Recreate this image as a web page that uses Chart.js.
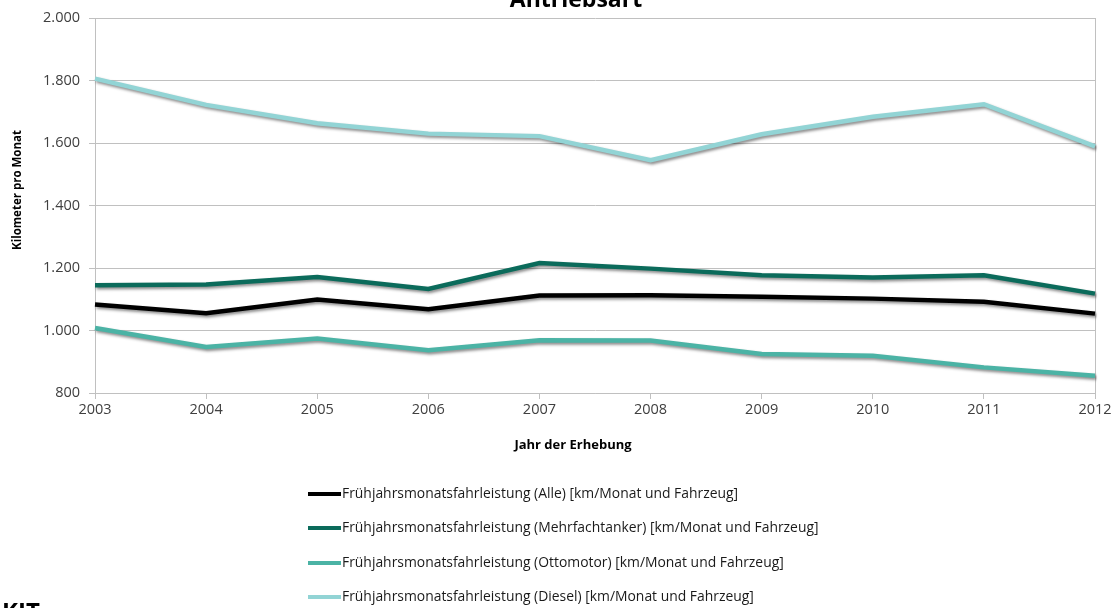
<!DOCTYPE html>
<html>
<head>
<meta charset="utf-8">
<script src="https://cdn.jsdelivr.net/npm/chart.js@4/dist/chart.umd.min.js"></script>
<style>
  html, body { margin: 0; padding: 0; background: #fff; }
  #wrap { width: 1115px; height: 608px; }
</style>
</head>
<body>
<div id="wrap"><canvas id="myChart" width="1115" height="608"></canvas></div>
<script>
/* data */
var years = ['2003','2004','2005','2006','2007','2008','2009','2010','2011','2012'];
var alle = [1083, 1055, 1099, 1068, 1112, 1113, 1108, 1102, 1092, 1054];
var mehrfachtanker = [1145, 1147, 1171, 1133, 1216, 1198, 1177, 1170, 1177, 1118];
var ottomotor = [1008, 947, 974, 937, 969, 968, 925, 919, 882, 855];
var diesel = [1806, 1722, 1663, 1630, 1622, 1545, 1628, 1684, 1724, 1589];

var seriesLabels = [
	'Frühjahrsmonatsfahrleistung (Alle) [km/Monat und Fahrzeug]',
	'Frühjahrsmonatsfahrleistung (Mehrfachtanker) [km/Monat und Fahrzeug]',
	'Frühjahrsmonatsfahrleistung (Ottomotor) [km/Monat und Fahrzeug]',
	'Frühjahrsmonatsfahrleistung (Diesel) [km/Monat und Fahrzeug]'
];
var seriesColors = ['#000000', '#0b6b5b', '#4bb3a5', '#92d4d5'];
var chartTitle = 'Antriebsart';
var xTitle = 'Jahr der Erhebung';
var yTitle = 'Kilometer pro Monat';

var FONT = "'Open Sans', sans-serif";
var gridGray = '#c0c0c0';

function makeSet(i, values){
	return {
		label: seriesLabels[i],
		data: values,
		borderColor: seriesColors[i],
		backgroundColor: seriesColors[i],
		borderWidth: 4.5,
		pointRadius: 0,
		pointHoverRadius: 0,
		tension: 0,
		fill: false
	};
}

// shadow under the lines, like the office chart
var shadowPlugin = {
	id: 'lineShadow',
	beforeDatasetsDraw: function(chart){
		var ctx = chart.ctx;
		ctx.save();
		ctx.shadowColor = 'rgba(0,0,0,0.45)';
		ctx.shadowBlur = 3;
		ctx.shadowOffsetX = 1.5;
		ctx.shadowOffsetY = 2;
	},
	afterDatasetsDraw: function(chart){
		chart.ctx.restore();
	}
};

// titles, legend list and the cut-off footer
var textPlugin = {
	id: 'texts',
	afterDraw: function(chart){
		var ctx = chart.ctx;
		ctx.save();

		// chart title, mostly cut off at the top
		ctx.fillStyle = '#000';
		ctx.font = "bold 23px " + FONT;
		ctx.textAlign = 'center';
		ctx.textBaseline = 'alphabetic';
		ctx.fillText(chartTitle, 576, 7);

		// x axis title
		ctx.font = "bold 13px " + FONT;
		ctx.textBaseline = 'middle';
		ctx.fillText(xTitle, 573, 445);

		// y axis title
		ctx.font = "bold 11.5px " + FONT;
		ctx.save();
		ctx.translate(18, 190);
		ctx.rotate(-Math.PI / 2);
		ctx.fillText(yTitle, 0, 0);
		ctx.restore();

		// legend, one entry per row
		var rows = [494, 528, 563, 597];
		ctx.font = "13.9px " + FONT;
		ctx.textAlign = 'left';
		chart.data.datasets.forEach(function(ds, i){
			var y = rows[i];
			ctx.strokeStyle = ds.borderColor;
			ctx.lineWidth = 4;
			ctx.beginPath();
			ctx.moveTo(308, y);
			ctx.lineTo(341, y);
			ctx.stroke();
			ctx.fillStyle = '#1a1a1a';
			ctx.fillText(ds.label, 342, y);
		});

		// footer logo text, cut off at the bottom
		ctx.fillStyle = '#000';
		ctx.font = "bold 24px " + FONT;
		ctx.textBaseline = 'top';
		ctx.fillText('KIT', 2, 601);

		ctx.restore();
	}
};

var canvas = document.getElementById('myChart');
var ctx = canvas.getContext('2d');

var plot = new Chart(ctx, {
	type: 'line',
	data: {
		labels: years,
		datasets: [
			makeSet(0, alle),
			makeSet(1, mehrfachtanker),
			makeSet(2, ottomotor),
			makeSet(3, diesel)
		]
	},
	options: {
		responsive: false,
		animation: false,
		events: [],
		layout: { padding: { left: 0, right: 20, top: 18, bottom: 0 } },
		plugins: {
			legend: { display: false },
			title: { display: false },
			tooltip: { enabled: false }
		},
		scales: {
			x: {
				type: 'category',
				offset: false,
				grid: {
					drawOnChartArea: true,
					color: function(c){ return c.index === years.length - 1 ? gridGray : 'rgba(0,0,0,0)'; },
					tickColor: gridGray,
					tickLength: 6
				},
				border: { color: gridGray, width: 1 },
				ticks: {
					color: '#404040',
					font: { family: FONT, size: 14.5 },
					padding: 2,
					maxRotation: 0,
					autoSkip: false
				},
				afterFit: function(scale){ scale.height = 215; }
			},
			y: {
				min: 800,
				max: 2000,
				grid: { color: gridGray, tickColor: gridGray, tickLength: 6 },
				border: { color: gridGray, width: 1 },
				ticks: {
					stepSize: 200,
					color: '#404040',
					font: { family: FONT, size: 14.5 },
					padding: 9,
					callback: function(v){ return v.toLocaleString('de-DE'); }
				},
				afterFit: function(scale){ scale.width = 95; }
			}
		}
	},
	plugins: [shadowPlugin, textPlugin]
});
</script>
</body>
</html>
